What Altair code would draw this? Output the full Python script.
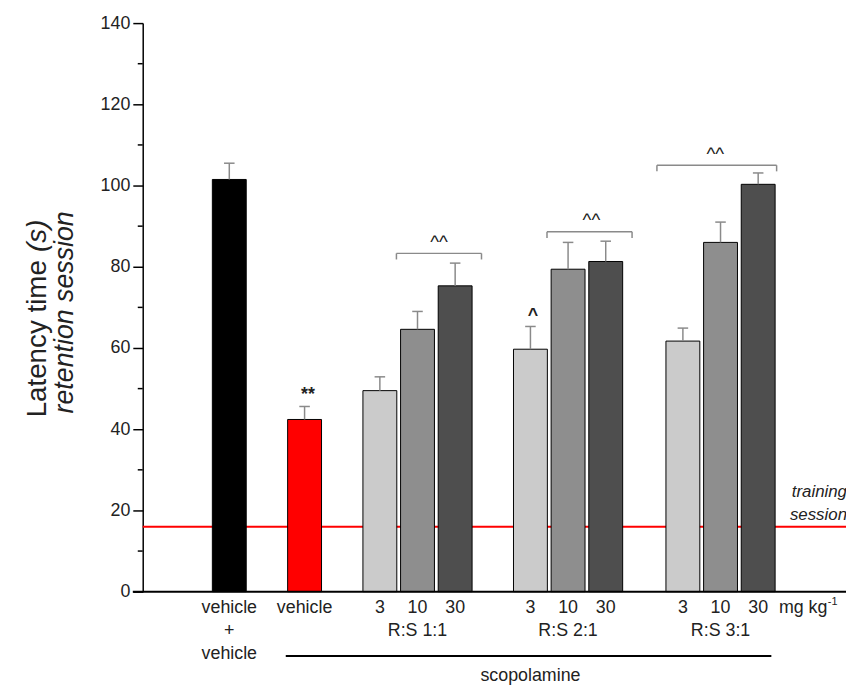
import altair as alt
import pandas as pd

# ---- data ----
bar_labels = ["vehicle", "vehicle", "3", "10", "30", "3", "10", "30", "3", "10", "30"]
bar_pos = [2.3, 4.3, 6.3, 7.3, 8.3, 10.3, 11.3, 12.3, 14.35, 15.35, 16.35]
means = [101.5, 42.4, 49.5, 64.6, 75.3, 59.7, 79.4, 81.3, 61.7, 86.0, 100.3]
err_top = [105.5, 45.6, 52.9, 69.0, 80.9, 65.3, 86.0, 86.3, 64.9, 91.0, 103.1]
bar_colors = ["#000000", "#ff0000", "#cbcbcb", "#8e8e8e", "#4e4e4e",
              "#cbcbcb", "#8e8e8e", "#4e4e4e", "#cbcbcb", "#8e8e8e", "#4e4e4e"]

sig_text = ["**", "^"]
sig_pos = [4.39, 10.37]
sig_y = [48.3, 67.8]

bracket_start = [6.74, 10.74, 13.66]
bracket_end = [9.0, 13.0, 16.84]
bracket_y = [83.3, 88.6, 105.0]
bracket_label = ["^^", "^^", "^^"]
bracket_label_pos = [7.87, 11.92, 15.21]

group_labels = ["+", "R:S 1:1", "R:S 2:1", "R:S 3:1"]
group_pos = [2.3, 7.3, 11.3, 15.35]

training_level = 16
y_ticks = [0, 20, 40, 60, 80, 100, 120, 140]
y_minor = [10, 30, 50, 70, 90, 110, 130]

FONT = "Liberation Sans"
TXT = "#222222"
XS = alt.Scale(domain=[0, 18.42], nice=False, zero=False)
YS = alt.Scale(domain=[0, 140], nice=False)

df = pd.DataFrame({"pos": bar_pos, "mean": means, "err": err_top,
                   "color": bar_colors, "label": bar_labels})

base = alt.Chart(df)

yaxis = alt.Axis(values=y_ticks, title=None, grid=False, tickSize=10, tickWidth=1.5,
                 tickColor="black", domainColor="black", domainWidth=1.5,
                 labelFont=FONT, labelFontSize=18, labelColor=TXT, labelPadding=3)

bars = base.transform_calculate(x1="datum.pos - 0.45", x2="datum.pos + 0.45").mark_bar(
    stroke="black", strokeWidth=1).encode(
    x=alt.X("x1:Q", scale=XS, axis=None),
    x2="x2:Q",
    y=alt.Y("mean:Q", scale=YS, axis=yaxis),
    y2=alt.datum(0),
    color=alt.Color("color:N", scale=None),
)

err_lines = base.mark_rule(color="#8a8a8a", strokeWidth=1.5).encode(
    x=alt.X("pos:Q", scale=XS), y=alt.Y("mean:Q", scale=YS), y2="err:Q")

caps = base.transform_calculate(c1="datum.pos - 0.14", c2="datum.pos + 0.14").mark_rule(
    color="#8a8a8a", strokeWidth=1.5).encode(
    x=alt.X("c1:Q", scale=XS), x2="c2:Q", y=alt.Y("err:Q", scale=YS))

minor = alt.Chart(pd.DataFrame({"v": y_minor})).mark_rule(color="black", strokeWidth=1.5).encode(
    y=alt.Y("v:Q", scale=YS), x=alt.value(-5), x2=alt.value(0))

x_line = alt.Chart(pd.DataFrame({"v": [0]})).mark_rule(color="black", strokeWidth=2).encode(
    y=alt.Y("v:Q", scale=YS), x=alt.value(-10), x2=alt.value(710))

train_line = alt.Chart(pd.DataFrame({"v": [training_level]})).mark_rule(
    color="#ff0000", strokeWidth=2).encode(
    y=alt.Y("v:Q", scale=YS), x=alt.value(0), x2=alt.value(710))

train_text = alt.Chart(pd.DataFrame({"v": [training_level]})).mark_text(
    text=["training", "session"], align="right", baseline="alphabetic", fontStyle="italic",
    font=FONT, fontSize=17, lineHeight=23, color=TXT, dy=-30).encode(
    y=alt.Y("v:Q", scale=YS), x=alt.value(711))

sig = alt.Chart(pd.DataFrame({"pos": sig_pos, "y": sig_y, "t": sig_text})).mark_text(
    font=FONT, fontSize=18, fontWeight="bold", baseline="middle", color=TXT).encode(
    x=alt.X("pos:Q", scale=XS), y=alt.Y("y:Q", scale=YS), text="t:N")

bdf = pd.DataFrame({"s": bracket_start, "e": bracket_end, "y": bracket_y,
                    "lp": bracket_label_pos, "t": bracket_label})
br_h = alt.Chart(bdf).mark_rule(color="#8a8a8a", strokeWidth=1.5).encode(
    x=alt.X("s:Q", scale=XS), x2="e:Q", y=alt.Y("y:Q", scale=YS))
br_l = alt.Chart(bdf).transform_calculate(y2="datum.y - 1.5").mark_rule(
    color="#8a8a8a", strokeWidth=1.5).encode(
    x=alt.X("s:Q", scale=XS), y=alt.Y("y:Q", scale=YS), y2="y2:Q")
br_r = alt.Chart(bdf).transform_calculate(y2="datum.y - 1.5").mark_rule(
    color="#8a8a8a", strokeWidth=1.5).encode(
    x=alt.X("e:Q", scale=XS), y=alt.Y("y:Q", scale=YS), y2="y2:Q")
br_t = alt.Chart(bdf).transform_calculate(ty="datum.y + 2.8").mark_text(
    font=FONT, fontSize=19, baseline="middle", color=TXT).encode(
    x=alt.X("lp:Q", scale=XS), y=alt.Y("ty:Q", scale=YS), text="t:N")

row1 = base.mark_text(font=FONT, fontSize=18, baseline="middle", color=TXT).encode(
    x=alt.X("pos:Q", scale=XS), y=alt.value(591), text="label:N")

unit1 = alt.Chart(pd.DataFrame({"pos": [16.9]})).mark_text(
    text="mg kg", font=FONT, fontSize=18, align="left", baseline="middle",
    color=TXT).encode(x=alt.X("pos:Q", scale=XS), y=alt.value(591))
unit2 = alt.Chart(pd.DataFrame({"pos": [18.2]})).mark_text(
    text="-1", font=FONT, fontSize=11, align="left", baseline="middle",
    color=TXT).encode(x=alt.X("pos:Q", scale=XS), y=alt.value(584))

row2 = alt.Chart(pd.DataFrame({"pos": group_pos, "t": group_labels})).mark_text(
    font=FONT, fontSize=18, baseline="middle", color=TXT).encode(
    x=alt.X("pos:Q", scale=XS), y=alt.value(614), text="t:N")

row3 = alt.Chart(pd.DataFrame({"pos": [2.3]})).mark_text(
    text="vehicle", font=FONT, fontSize=18, baseline="middle", color=TXT).encode(
    x=alt.X("pos:Q", scale=XS), y=alt.value(637))

scop_line = alt.Chart(pd.DataFrame({"s": [3.8], "e": [16.7]})).mark_rule(
    color="black", strokeWidth=2).encode(
    x=alt.X("s:Q", scale=XS), x2="e:Q", y=alt.value(639))

scop_text = alt.Chart(pd.DataFrame({"pos": [10.3]})).mark_text(
    text="scopolamine", font=FONT, fontSize=18, baseline="middle", color=TXT).encode(
    x=alt.X("pos:Q", scale=XS), y=alt.value(659))

# y title (two lines, with italic parts)
ytitle_a = alt.Chart(pd.DataFrame({"v": [0]})).mark_text(
    text="Latency time", font=FONT, fontSize=28, angle=270, align="left",
    baseline="middle", color=TXT).encode(x=alt.value(-106), y=alt.value(398))
ytitle_b = alt.Chart(pd.DataFrame({"v": [0]})).mark_text(
    text="(s)", font=FONT, fontSize=28, fontStyle="italic", angle=270, align="left",
    baseline="middle", color=TXT).encode(x=alt.value(-106), y=alt.value(231))
ytitle_c = alt.Chart(pd.DataFrame({"v": [0]})).mark_text(
    text="retention session", font=FONT, fontSize=27, fontStyle="italic", angle=270,
    align="center", baseline="middle", color=TXT).encode(x=alt.value(-78), y=alt.value(292))

chart = alt.layer(
    train_line, bars, err_lines, caps, minor, x_line, train_text, sig,
    br_h, br_l, br_r, br_t, row1, unit1, unit2, row2, row3, scop_line, scop_text,
    ytitle_a, ytitle_b, ytitle_c,
).properties(
    width=700, height=574,
    autosize=alt.AutoSizeParams(type="none"),
    padding={"left": 136, "top": 12, "right": 10, "bottom": 93},
    background="white",
).configure_view(stroke=None)

chart.save("out.html", embed_options={"renderer": "svg", "actions": False})
